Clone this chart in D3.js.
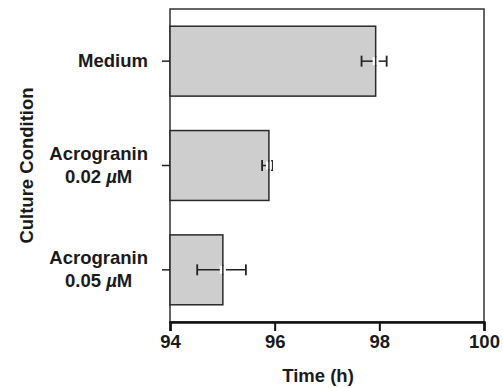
<!DOCTYPE html>
<html>
<head>
<meta charset="utf-8">
<script src="https://cdn.jsdelivr.net/npm/d3@7"></script>
<style>
  body { margin: 0; background: #fff; }
  text { font-family: "Liberation Sans", Arial, sans-serif; font-weight: bold; fill: #1a1a1a; }
</style>
</head>
<body>
<svg id="chart" width="503" height="388"></svg>
<script>
// conditions, top to bottom
const conditions = ['Medium', 'Acrogranin 0.02', 'Acrogranin 0.05'];
const labelLines = [['Medium'], ['Acrogranin', '0.02 µM'], ['Acrogranin', '0.05 µM']];
// mean time (h) and error bar ends
const means = [97.93, 95.89, 95.01];
const errLow = [97.66, 95.76, 94.52];
const errHigh = [98.14, 95.95, 95.45];
const xTicks = [94, 96, 98, 100];

const width = 503;
const height = 388;
const margin = { top: 9, right: 19, bottom: 66, left: 170 };
const fontSize = '18.5px';

const svg = d3.select('#chart');

const x = d3.scaleLinear().domain([94, 100]).range([margin.left, width - margin.right]);
const y = d3.scaleBand().domain(conditions).range([margin.top, height - margin.bottom]).paddingInner(0.33).paddingOuter(0.165);

// frame
svg.append('rect')
    .attr('x', x(94))
    .attr('y', margin.top)
    .attr('width', x(100) - x(94))
    .attr('height', height - margin.bottom - margin.top)
    .attr('fill', 'none')
    .attr('stroke', '#333')
    .attr('stroke-width', 1.5);

// bars
svg.selectAll('rect.bar')
    .data(conditions)
    .enter()
    .append('rect')
    .attr('class', 'bar')
    .attr('x', x(94))
    .attr('y', (d) => y(d))
    .attr('width', (d, i) => x(means[i]) - x(94))
    .attr('height', y.bandwidth())
    .attr('fill', '#cecece')
    .attr('stroke', '#2a2a2a')
    .attr('stroke-width', 1.5);

// error bars
const capH = 11;
const err = svg.selectAll('g.err').data(conditions).enter().append('g').attr('class', 'err');
err.append('line')
    .attr('x1', (d, i) => x(errLow[i]))
    .attr('x2', (d, i) => x(errHigh[i]))
    .attr('y1', (d) => y(d) + y.bandwidth() / 2)
    .attr('y2', (d) => y(d) + y.bandwidth() / 2)
    .attr('stroke', '#222')
    .attr('stroke-width', 1.5);
err.append('line')
    .attr('x1', (d, i) => x(errLow[i]))
    .attr('x2', (d, i) => x(errLow[i]))
    .attr('y1', (d) => y(d) + y.bandwidth() / 2 - capH / 2)
    .attr('y2', (d) => y(d) + y.bandwidth() / 2 + capH / 2)
    .attr('stroke', '#222')
    .attr('stroke-width', 1.8);
err.append('line')
    .attr('x1', (d, i) => x(errHigh[i]))
    .attr('x2', (d, i) => x(errHigh[i]))
    .attr('y1', (d) => y(d) + y.bandwidth() / 2 - capH / 2)
    .attr('y2', (d) => y(d) + y.bandwidth() / 2 + capH / 2)
    .attr('stroke', '#222')
    .attr('stroke-width', 1.8);
// the bar edge hides the middle of the error line
err.append('line')
    .attr('x1', (d, i) => x(means[i]))
    .attr('x2', (d, i) => x(means[i]))
    .attr('y1', (d) => y(d) + y.bandwidth() / 2 - 4)
    .attr('y2', (d) => y(d) + y.bandwidth() / 2 + 4)
    .attr('stroke', '#fff')
    .attr('stroke-width', 6);
err.append('line')
    .attr('x1', (d, i) => x(means[i]))
    .attr('x2', (d, i) => x(means[i]))
    .attr('y1', (d) => y(d) + y.bandwidth() / 2 - 5)
    .attr('y2', (d) => y(d) + y.bandwidth() / 2 + 5)
    .attr('stroke', '#2a2a2a')
    .attr('stroke-width', 1.5);

// x axis
const xAxis = svg.append('g')
    .attr('transform', `translate(0,${height - margin.bottom})`)
    .call(d3.axisBottom(x).tickValues(xTicks).tickSize(9).tickPadding(4).tickFormat(d3.format('d')));
xAxis.select('.domain').attr('stroke', '#111').attr('stroke-width', 2.5);
xAxis.selectAll('.tick line').attr('stroke', '#111').attr('stroke-width', 2);
xAxis.selectAll('.tick text')
    .attr('font-size', fontSize)
    .attr('font-family', '"Liberation Sans", Arial, sans-serif')
    .attr('font-weight', 'bold')
    .attr('fill', '#1a1a1a');

// y axis ticks
const yAxis = svg.append('g')
    .attr('transform', `translate(${margin.left},0)`)
    .call(d3.axisLeft(y).tickSize(8).tickFormat(''));
yAxis.select('.domain').remove();
yAxis.selectAll('.tick line').attr('stroke', '#222').attr('stroke-width', 1.5);

// category labels (multi-line, lines centred, block right aligned)
const labelRight = 148;
const lineGap = 23;
conditions.forEach((c, i) => {
    const lines = labelLines[i];
    const cy = y(c) + y.bandwidth() / 2;
    const first = cy + 6 - ((lines.length - 1) * lineGap) / 2;
    const t = svg.append('text').attr('text-anchor', 'middle').attr('font-size', fontSize);
    lines.forEach((ln, k) => {
        const ts = t.append('tspan').attr('y', first + k * lineGap);
        const m = ln.match(/^(.*)µ(M)$/);
        if (m) {
            ts.text(m[1]);
            ts.append('tspan').attr('font-style', 'italic').text('µ');
            ts.append('tspan').text(m[2]);
        } else {
            ts.text(ln);
        }
    });
    const tspans = t.selectAll(':scope > tspan').nodes();
    const maxW = d3.max(tspans, (n) => n.getComputedTextLength());
    t.selectAll(':scope > tspan').attr('x', labelRight - maxW / 2);
});

// axis titles
svg.append('text')
    .attr('x', 318)
    .attr('y', 382)
    .attr('text-anchor', 'middle')
    .attr('font-size', fontSize)
    .text('Time (h)');

svg.append('text')
    .attr('transform', `translate(33,${(margin.top + height - margin.bottom) / 2}) rotate(-90)`)
    .attr('text-anchor', 'middle')
    .attr('font-size', fontSize)
    .text('Culture Condition');
</script>
</body>
</html>
